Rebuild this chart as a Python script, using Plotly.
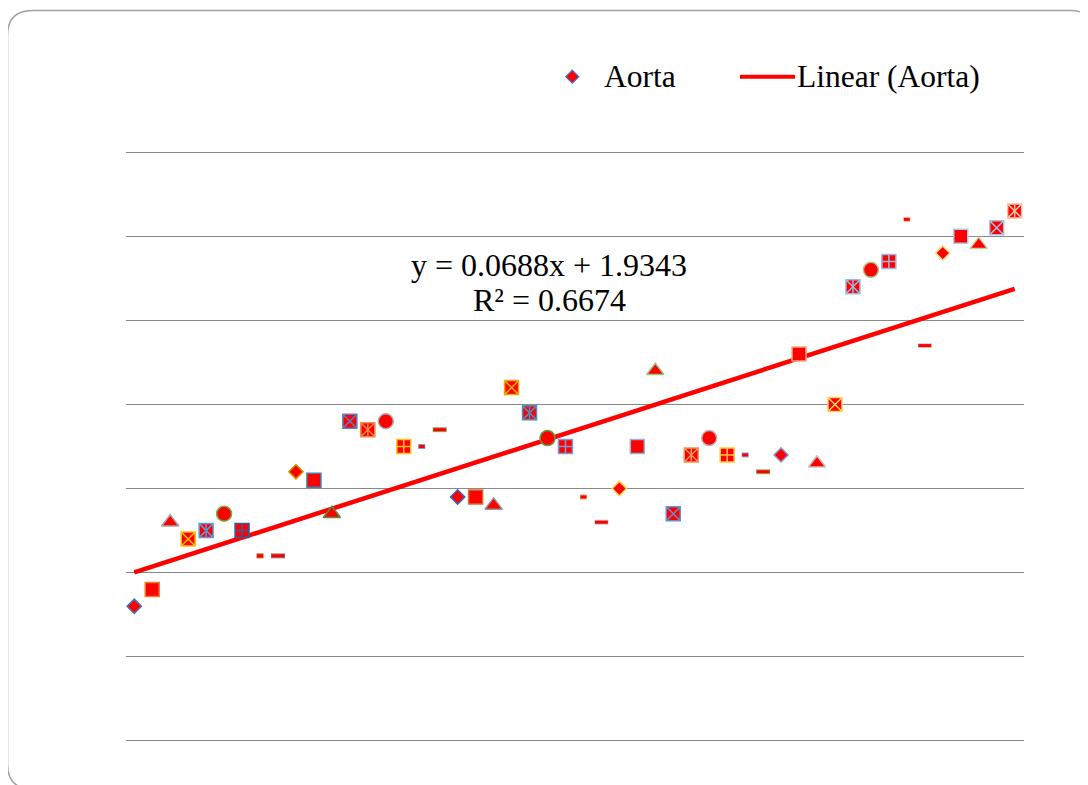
import plotly.graph_objects as go

# ---------------- data ----------------
x_index = list(range(1, 51))
aorta = [1.6, 1.8, 2.6, 2.4, 2.5, 2.7, 2.5, 2.2, 2.2, 3.2,
         3.1, 2.7, 3.8, 3.7, 3.8, 3.5, 3.5, 3.7, 2.9, 2.9,
         2.8, 4.2, 3.9, 3.6, 3.5, 2.9, 2.6, 3.0, 3.5, 4.4,
         2.7, 3.4, 3.6, 3.4, 3.4, 3.2, 3.4, 4.6, 3.3, 4.0,
         5.4, 5.6, 5.7, 6.2, 4.7, 5.8, 6.0, 5.9, 6.1, 6.3]
slope = 0.0688
intercept = 1.9343
r_squared = 0.6674
y_ticks = [0, 1, 2, 3, 4, 5, 6, 7]
series_name = "Aorta"
trend_name = "Linear (Aorta)"

# ---------------- layout geometry (screen px, page has 8px body margin) ----------------
OX, OY = 8, 8
W, H = 1080, 777
ML, MR, MT, MB = 118, 64, 142, 42
PW = W - ML - MR
PH = H - MT - MB


def px(xs):
    return (xs - OX - ML) / PW


def py(ys):
    return (H - MB - (ys - OY)) / PH


FONT = "Liberation Serif, Times New Roman, serif"
RED = "#FF0000"

kinds = ["diamond", "square", "triangle", "xsq", "star", "circle", "plus", "dash_s", "dash_l"]
bases = ["#4472C4", "#ED7D31", "#A5A5A5", "#FFC000", "#5B9BD5", "#70AD47"]
round_shade = [0, -0.2, 0.1, -0.1, 0.3, 0.2, 0.35, 0.5, 0.55]


def shade(hx, f):
    c = [int(hx[i:i + 2], 16) for i in (1, 3, 5)]
    if f < 0:
        c = [int(v * (1 + f)) for v in c]
    else:
        c = [int(v + (255 - v) * f) for v in c]
    return "#%02X%02X%02X" % tuple(c)


sym_map = {"diamond": ("diamond", 11, 1.5), "square": ("square", 14, 1.5),
           "triangle": ("triangle-up", 15, 1.5), "xsq": ("square-x", 14, 1.5),
           "star": ("square-x", 14, 1.5), "circle": ("circle", 15, 1.5),
           "plus": ("square-cross", 14, 1.5), "dash_s": ("line-ew", 5, 5),
           "dash_l": ("line-ew", 10, 5)}

symbols, sizes, lws, lcols, kind_of = [], [], [], [], []
for i in range(len(x_index)):
    k = kinds[i % len(kinds)]
    s, sz, lw = sym_map[k]
    symbols.append(s)
    sizes.append(sz)
    lws.append(lw)
    lcols.append(shade(bases[i % 6], round_shade[min(i // 6, len(round_shade) - 1)]))
    kind_of.append(k)

fig = go.Figure()

# trendline
fig.add_trace(go.Scatter(
    x=[x_index[0], x_index[-1]],
    y=[slope * x_index[0] + intercept, slope * x_index[-1] + intercept],
    mode="lines", line=dict(color=RED, width=4.5), name=trend_name,
    showlegend=False, hoverinfo="skip"))

# main markers
fig.add_trace(go.Scatter(
    x=x_index, y=aorta, mode="markers", name=series_name, showlegend=False,
    cliponaxis=False,
    marker=dict(symbol=symbols, size=sizes, color=RED, opacity=1,
                line=dict(color=lcols, width=lws))))

# dash inner red overlay
dash_idx = [i for i, k in enumerate(kind_of) if k.startswith("dash")]
fig.add_trace(go.Scatter(
    x=[x_index[i] for i in dash_idx], y=[aorta[i] for i in dash_idx],
    mode="markers", showlegend=False, hoverinfo="skip", cliponaxis=False,
    marker=dict(symbol="line-ew", size=[sizes[i] - 0.8 for i in dash_idx],
                color=RED, opacity=1, line=dict(color=RED, width=3))))

# star vertical stroke overlay
star_idx = [i for i, k in enumerate(kind_of) if k == "star"]
fig.add_trace(go.Scatter(
    x=[x_index[i] for i in star_idx], y=[aorta[i] for i in star_idx],
    mode="markers", showlegend=False, hoverinfo="skip", cliponaxis=False,
    marker=dict(symbol="line-ns", size=9, opacity=1,
                line=dict(color=[lcols[i] for i in star_idx], width=1.5))))

# rounded border
l, t, r, b, rad = 7.5, 10.5, 1095, 789, 25
path = (f"M {px(l)},{py(t + rad)} Q {px(l)},{py(t)} {px(l + rad)},{py(t)} "
        f"L {px(r - rad)},{py(t)} Q {px(r)},{py(t)} {px(r)},{py(t + rad)} "
        f"L {px(r)},{py(b - rad)} Q {px(r)},{py(b)} {px(r - rad)},{py(b)} "
        f"L {px(l + rad)},{py(b)} Q {px(l)},{py(b)} {px(l)},{py(b - rad)} Z")
shapes = [dict(type="path", xref="paper", yref="paper", path=path,
               line=dict(color="#A3A3A3", width=1.5), layer="below")]

# legend diamond
cx, cy, hs = 572.3, 76.7, 6.5
dpath = (f"M {px(cx)},{py(cy - hs)} L {px(cx + hs)},{py(cy)} "
         f"L {px(cx)},{py(cy + hs)} L {px(cx - hs)},{py(cy)} Z")
shapes.append(dict(type="path", xref="paper", yref="paper", path=dpath,
                   fillcolor=RED, line=dict(color="#4472C4", width=1.2)))
# legend line
shapes.append(dict(type="line", xref="paper", yref="paper",
                   x0=px(740), x1=px(795), y0=py(76.7), y1=py(76.7),
                   line=dict(color=RED, width=4)))

annotations = [
    dict(text=series_name, x=px(602), y=py(77), xref="paper", yref="paper",
         xanchor="left", yanchor="middle", showarrow=False,
         font=dict(family=FONT, size=31.5, color="#000")),
    dict(text=trend_name, x=px(795), y=py(77), xref="paper", yref="paper",
         xanchor="left", yanchor="middle", showarrow=False,
         font=dict(family=FONT, size=31.5, color="#000")),
    dict(text=f"y = {slope}x + {intercept}", x=px(549), y=py(265), xref="paper", yref="paper",
         xanchor="center", yanchor="middle", showarrow=False,
         font=dict(family=FONT, size=32, color="#000")),
    dict(text=f"R² = {r_squared}", x=px(549), y=py(300), xref="paper", yref="paper",
         xanchor="center", yanchor="middle", showarrow=False,
         font=dict(family=FONT, size=32, color="#000")),
]

fig.update_layout(
    width=W, height=H, margin=dict(l=ML, r=MR, t=MT, b=MB),
    paper_bgcolor="white", plot_bgcolor="white",
    shapes=shapes, annotations=annotations, showlegend=False,
    xaxis=dict(visible=False, range=[0.54, 50.52]),
    yaxis=dict(range=[-0.025, 7.025], tickvals=y_ticks, showticklabels=False,
               showgrid=True, gridcolor="#898989", gridwidth=1,
               zeroline=False, showline=False, ticks=""),
)

fig.write_html("out.html")
